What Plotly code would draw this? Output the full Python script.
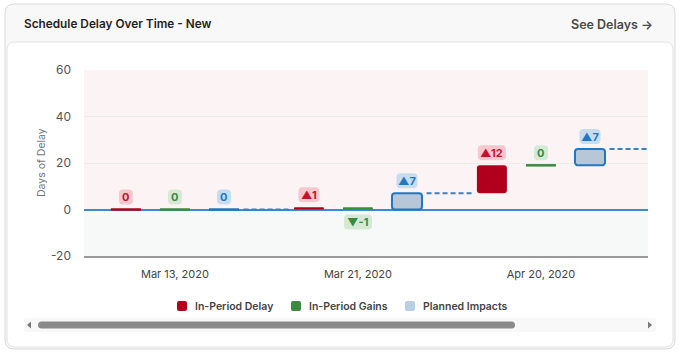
import plotly.graph_objects as go

# ---------------- data ----------------
categories = ["Mar 13, 2020", "Mar 21, 2020", "Apr 20, 2020"]
in_period_delay = [0, 1, 12]
in_period_gains = [0, -1, 0]
planned_impacts = [0, 7, 7]
series_names = ["In-Period Delay", "In-Period Gains", "Planned Impacts"]
y_tick_values = [-20, 0, 20, 40, 60]
y_tick_labels = ["-20", "0", "20", "40", "60"]
chart_title = "Schedule Delay Over Time - New"
link_text = "See Delays \u2192"
y_axis_title = "Days of Delay"

# ---------------- style ----------------
W, H = 688, 355
L, R, T, B = 84, 648, 70, 256
FONT = "Inter"
styles = [
    dict(fill="#b0001e", line="#b0001e", text="#c8102e", badge="#f5c8d0", legend="#b0001e"),
    dict(fill="#3a8a3f", line="#3a8a3f", text="#3a8a3f", badge="#d6e9d5", legend="#3a8a3f"),
    dict(fill="#b7c7d8", line="#1f78c1", text="#1f78c1", badge="#c8dcef", legend="#b8d0e6"),
]
offsets = [-0.268, 0.0, 0.268]
bar_w = 0.164
x_min, x_max = -0.497, 2.585


def PX(x):
    return (x - L) / (R - L)


def PY(y):
    return (B - y) / (B - T)


def rr(x0, y0, x1, y1, rx, ry):
    return (f"M{x0+rx},{y0} L{x1-rx},{y0} Q{x1},{y0} {x1},{y0+ry} "
            f"L{x1},{y1-ry} Q{x1},{y1} {x1-rx},{y1} L{x0+rx},{y1} "
            f"Q{x0},{y1} {x0},{y1-ry} L{x0},{y0+ry} Q{x0},{y0} {x0+rx},{y0} Z")


def rr_px(x0, y0, x1, y1, r):
    return rr(PX(x0), PY(y1), PX(x1), PY(y0), r / (R - L), r / (B - T))


series = [in_period_delay, in_period_gains, planned_impacts]

fig = go.Figure()
shapes = []
annotations = []

# card
shapes.append(dict(type="path", xref="paper", yref="paper", layer="below",
                   path=rr_px(5, 4, 675, 349, 9), fillcolor="#f8f8f8",
                   line=dict(color="#d9d9d9", width=1)))
shapes.append(dict(type="path", xref="paper", yref="paper", layer="below",
                   path=rr_px(7, 42, 673, 347, 8), fillcolor="#ffffff",
                   line=dict(color="#e4e4e4", width=1)))
# plot background bands
shapes.append(dict(type="rect", xref="paper", yref="y", layer="below",
                   x0=0, x1=1, y0=0, y1=60, fillcolor="#fcf4f4", line=dict(width=0)))
shapes.append(dict(type="rect", xref="paper", yref="y", layer="below",
                   x0=0, x1=1, y0=-20, y1=0, fillcolor="#f6f9f8", line=dict(width=0)))

# waterfall computation
cum = 0
bars = {s: dict(x=[], base=[], y=[]) for s in range(3)}
zeros = {s: dict(x=[], y=[]) for s in range(3)}
connectors_x, connectors_y = [], []
badges = []
for i, cat in enumerate(categories):
    for s in range(3):
        v = series[s][i]
        xc = i + offsets[s]
        base = cum
        cum = cum + v
        if v != 0:
            bars[s]["x"].append(xc)
            bars[s]["base"].append(base)
            bars[s]["y"].append(v)
        else:
            zeros[s]["x"] += [xc - bar_w / 2, xc + bar_w / 2, None]
            zeros[s]["y"] += [base, base, None]
        if v > 0:
            label = f"\u25b2{v}"
            anchor, up = cum, True
        elif v < 0:
            label = f"\u25bc{v}"
            anchor, up = min(base, cum), False
        else:
            label = "0"
            anchor, up = cum, True
        badges.append((xc, anchor, up, label, s))
    end = i + 1 - 0.375 if i + 1 < len(categories) else x_max
    connectors_x += [i + 0.375, end, None]
    connectors_y += [cum, cum, None]

for s in range(3):
    st = styles[s]
    fig.add_trace(go.Bar(x=bars[s]["x"], y=bars[s]["y"], base=bars[s]["base"],
                         width=bar_w, name=series_names[s], showlegend=False,
                         marker=dict(color=st["fill"], cornerradius=3,
                                     line=dict(color=st["line"], width=2 if s == 2 else 0))))
    fig.add_trace(go.Scatter(x=zeros[s]["x"], y=zeros[s]["y"], mode="lines",
                             line=dict(color=st["line"], width=2.5),
                             showlegend=False, hoverinfo="skip"))

fig.add_trace(go.Scatter(x=connectors_x, y=connectors_y, mode="lines",
                         line=dict(color="#2f80c8", width=2, dash="5px,3px"),
                         showlegend=False, hoverinfo="skip"))

# badges
for xc, anchor, up, label, s in badges:
    st = styles[s]
    n = len(label)
    w = 7 + 7 * n
    h = 15
    gap = 5
    if up:
        y0, y1 = gap, gap + h
    else:
        y0, y1 = -gap - h, -gap
    shapes.append(dict(type="path", xref="x", yref="y", layer="above",
                       xsizemode="pixel", ysizemode="pixel",
                       xanchor=xc, yanchor=anchor,
                       path=rr(-w / 2, y0, w / 2, y1, 4, 4),
                       fillcolor=st["badge"], line=dict(width=0)))
    annotations.append(dict(x=xc, y=anchor, xref="x", yref="y", text=label,
                            showarrow=False, yshift=(y0 + y1) / 2,
                            xanchor="center", yanchor="middle",
                            font=dict(family=FONT, size=11, color=st["text"], weight=700)))

# header
annotations.append(dict(x=PX(22), y=PY(24), xref="paper", yref="paper",
                        text=chart_title, showarrow=False, xanchor="left", yanchor="middle",
                        font=dict(family=FONT, size=11.8, color="#1f1f1f", weight=600)))
annotations.append(dict(x=PX(655), y=PY(24), xref="paper", yref="paper",
                        text=link_text, showarrow=False, xanchor="right", yanchor="middle",
                        font=dict(family=FONT, size=12.5, color="#4a4a4a", weight=600)))

# y-axis title
annotations.append(dict(x=PX(41), y=PY(163), xref="paper", yref="paper",
                        text=y_axis_title, showarrow=False, textangle=-90,
                        xanchor="center", yanchor="middle",
                        font=dict(family=FONT, size=10.5, color="#777777")))

# legend (manual)
legend_swatch_x = [182, 296, 410]
for s in range(3):
    cx = legend_swatch_x[s]
    shapes.append(dict(type="path", xref="paper", yref="paper",
                       path=rr_px(cx - 5, 301, cx + 5, 311, 2),
                       fillcolor=styles[s]["legend"], line=dict(width=0)))
    annotations.append(dict(x=PX(cx + 11), y=PY(306), xref="paper", yref="paper",
                            text=series_names[s], showarrow=False,
                            xanchor="left", yanchor="middle",
                            font=dict(family=FONT, size=10.5, color="#444444", weight=600)))

# scrollbar
shapes.append(dict(type="path", xref="paper", yref="paper",
                   path=rr_px(24, 318, 656, 332, 2), fillcolor="#f8f8f8", line=dict(width=0)))
shapes.append(dict(type="path", xref="paper", yref="paper",
                   path=rr_px(38, 321.5, 515, 328.5, 3.5), fillcolor="#8a8a8a", line=dict(width=0)))
shapes.append(dict(type="path", xref="paper", yref="paper",
                   path=f"M{PX(27)},{PY(325)} L{PX(31)},{PY(321.5)} L{PX(31)},{PY(328.5)} Z",
                   fillcolor="#777777", line=dict(width=0)))
shapes.append(dict(type="path", xref="paper", yref="paper",
                   path=f"M{PX(652)},{PY(325)} L{PX(648)},{PY(321.5)} L{PX(648)},{PY(328.5)} Z",
                   fillcolor="#777777", line=dict(width=0)))

fig.update_layout(
    width=W, height=H,
    margin=dict(l=L, r=W - R, t=T, b=H - B, pad=0),
    paper_bgcolor="#ffffff", plot_bgcolor="rgba(0,0,0,0)",
    showlegend=False, barmode="overlay",
    font=dict(family=FONT),
    shapes=shapes, annotations=annotations,
    xaxis=dict(range=[x_min, x_max], tickvals=list(range(len(categories))),
               ticktext=categories, showgrid=False, zeroline=False,
               showline=True, linecolor="#9a9a9a", linewidth=2,
               ticks="", ticklabelstandoff=7,
               tickfont=dict(family=FONT, size=11, color="#444444"), fixedrange=True),
    yaxis=dict(range=[-20, 60], tickvals=y_tick_values, ticktext=y_tick_labels,
               showgrid=True, gridcolor="#ececec", gridwidth=1, zeroline=True,
               zerolinecolor="#3a8ccf", zerolinewidth=1.5, showline=False,
               ticks="", ticklabelstandoff=12,
               tickfont=dict(family=FONT, size=12, color="#555555"),
               fixedrange=True),
)

fig.write_html(
    "out.html",
    config={"displayModeBar": False},
    post_script="document.body.style.margin='0';document.body.style.overflow='hidden';",
)
